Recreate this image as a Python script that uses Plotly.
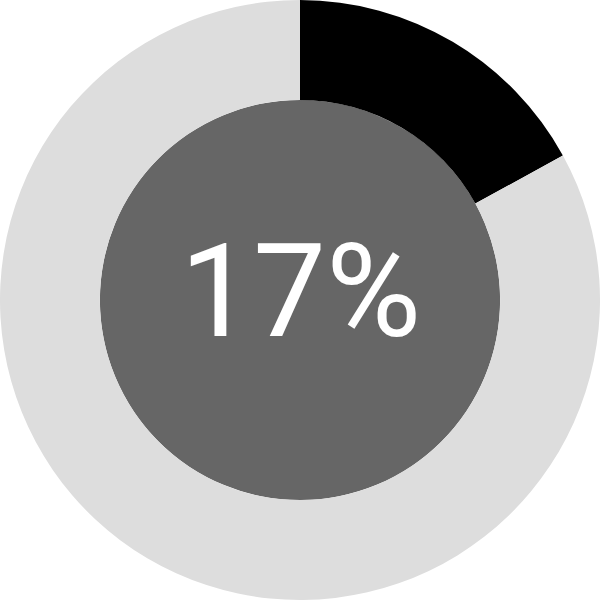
import plotly.graph_objects as go

labels = ["Value", "Remainder"]
values = [17, 83]
colors = ["#000000", "#dddddd"]
center_text = "17%"

fig = go.Figure()
fig.add_trace(go.Pie(
    labels=labels, values=values, hole=0.667, sort=False,
    direction="clockwise", rotation=0,
    marker=dict(colors=colors, line=dict(width=0)),
    textinfo="none", hoverinfo="none", showlegend=False,
    domain=dict(x=[0, 1], y=[0, 1]),
))
fig.add_shape(type="circle", xref="paper", yref="paper",
              x0=0.5 - 0.3335, x1=0.5 + 0.3335, y0=0.5 - 0.3335, y1=0.5 + 0.3335,
              fillcolor="#666666", line=dict(width=0), layer="below")
fig.add_annotation(x=0.5, y=0.515, xref="paper", yref="paper", text=center_text,
                   showarrow=False, font=dict(family="Roboto", size=130, color="#ffffff"),
                   xanchor="center", yanchor="middle")
fig.update_layout(width=600, height=600, margin=dict(l=0, r=0, t=0, b=0),
                  paper_bgcolor="#ffffff", plot_bgcolor="#ffffff")
fig.write_html("out.html", config={"displayModeBar": False},
               post_script="document.body.style.margin='0';document.body.style.overflow='hidden';")
